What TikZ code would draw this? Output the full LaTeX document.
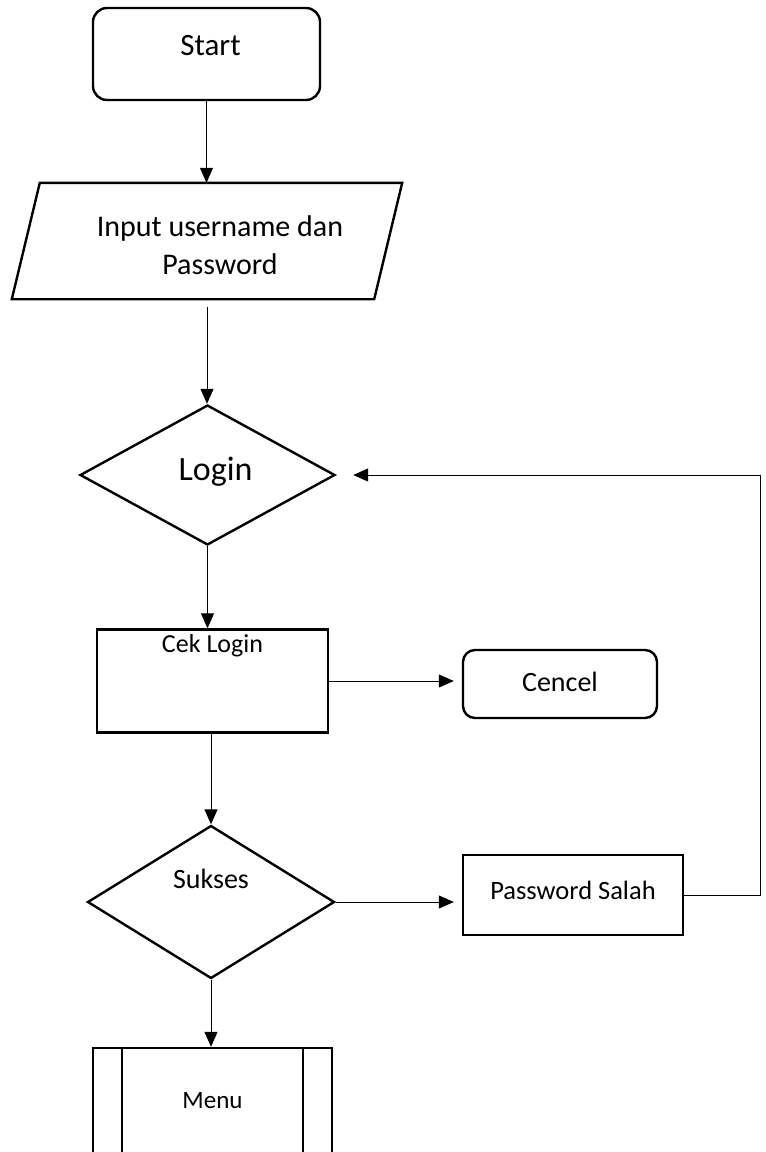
\documentclass[tikz,border=0pt]{standalone}
\usepackage{fontspec}
\setmainfont{Carlito}
\usetikzlibrary{shapes, shapes.geometric, positioning, arrows.meta, calc}

\begin{document}
\begin{tikzpicture}[
    x = 1pt, y = -1pt,
    > = {Triangle[length=15pt, width=13pt]},
    box/.style={draw, line width=2.4pt, inner sep=2pt},
    proc/.style={box, rectangle},
    term/.style={box, rectangle, rounded corners=14pt},
    decide/.style={box, diamond},
    txt/.style={font=\fontsize{28}{38}\selectfont, align=center},
    flow/.style={->, line width=1pt}
]
\useasboundingbox (0,0) rectangle (766,1152);
\clip (0,0) rectangle (766,1152);

% --- Shapes ---
\node[term, minimum width=227pt, minimum height=92pt,
    label={[txt, font=\fontsize{31}{38}\selectfont, xshift=4pt, yshift=8pt]center:Start}] (start) at (206.5,54) {};
% input: body of the data box, slanted outline drawn below
\node[minimum width=362pt, minimum height=116pt, inner sep=0pt,
    label={[txt, font=\fontsize{30}{38}\selectfont, xshift=13pt, yshift=-4pt]center:Input username dan\\Password}] (input) at (207,241) {};
\draw[line width=2.4pt, line join=miter]
    ($(input.north west)+(14,0)$) -- ($(input.north east)+(14,0)$)
    -- ($(input.south east)+(-14,0)$) -- ($(input.south west)+(-14,0)$) -- cycle;
\node[decide, minimum width=255pt, minimum height=140pt,
    label={[txt, font=\fontsize{34}{40}\selectfont, xshift=8pt, yshift=3pt]center:Login}] (login) at (207.5,475) {};
\node[proc, minimum width=231pt, minimum height=103pt,
    label={[txt, font=\fontsize{26}{38}\selectfont, yshift=35pt]center:Cek Login}] (cek) at (212.5,681) {};
\node[term, rounded corners=12pt, minimum width=194pt, minimum height=68pt,
    label={[txt, yshift=2pt]center:Cencel}] (cencel) at (560,684) {};
\node[decide, minimum width=247pt, minimum height=153pt,
    label={[txt, yshift=23pt]center:Sukses}] (sukses) at (211,902) {};
\node[proc, minimum width=220pt, minimum height=80pt,
    label={[txt, font=\fontsize{26.5}{38}\selectfont, yshift=5pt]center:Password Salah}] (salah) at (573,895) {};
\node[proc, minimum width=239pt, minimum height=116pt,
    label={[txt, font=\fontsize{25}{38}\selectfont, yshift=5pt]center:Menu}] (menu) at (212.5,1106) {};
% side bars of the predefined process
\draw[line width=2.4pt] ($(menu.north west)+(30,0)$) -- ($(menu.south west)+(30,0)$);
\draw[line width=2.4pt] ($(menu.north east)+(-30,0)$) -- ($(menu.south east)+(-30,0)$);

\coordinate (back) at (760,475);

% --- Connectors ---
\draw[flow] (start.south) -- (start.south |- input.north);
\draw[flow, shorten <=8pt] (input.south) -- (input.south |- login.north);
\draw[flow] (login.south) -- (login.south |- cek.north);
\draw[flow, shorten >=8pt] (cek.east) -- (cek.east -| cencel.west);
\draw[flow] (cek.south -| sukses.north) -- (sukses.north);
\draw[flow, shorten >=8pt] (sukses.east) -- (sukses.east -| salah.west);
\draw[flow] (sukses.south) -- (sukses.south |- menu.north);
% wrong password goes back to login
\draw[flow, shorten >=17pt] (salah.east) -| (back) -- (login.east);

\end{tikzpicture}
\end{document}
